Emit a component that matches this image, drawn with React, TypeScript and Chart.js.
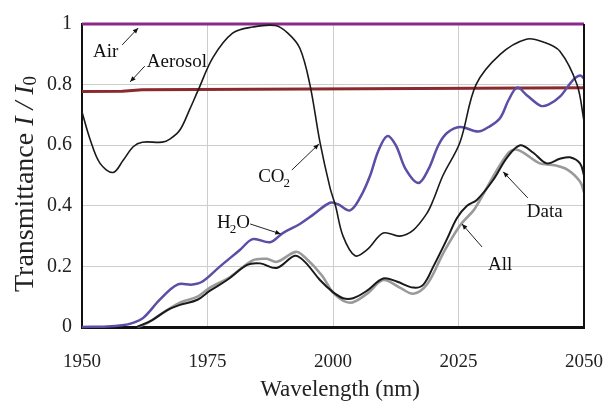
import React, { useEffect, useRef } from 'react';
import { Chart, registerables } from 'chart.js';

Chart.register(...registerables);

// ---- Data (wavelength in nm, transmittance I/I0) ----
const co2Wl = [1950, 1951.6, 1953.6, 1956.2, 1958.2, 1960.2, 1962, 1966, 1967.5, 1969.5, 1971.5, 1973.1, 1976.1, 1980, 1984, 1988.5, 1991, 1993.4, 1995.4, 1997.4, 1999.4, 2000.5, 2002, 2004.4, 2006.8, 2010, 2013.3, 2016, 2018.7, 2020, 2021.9, 2025.3, 2028.5, 2033.3, 2038.5, 2042, 2045.2, 2048.6, 2050];
const co2T = [0.71, 0.62, 0.54, 0.51, 0.55, 0.595, 0.61, 0.61, 0.62, 0.65, 0.72, 0.78, 0.89, 0.97, 0.99, 0.995, 0.97, 0.92, 0.8, 0.61, 0.46, 0.4, 0.3, 0.235, 0.255, 0.31, 0.3, 0.32, 0.375, 0.42, 0.5, 0.61, 0.8, 0.9, 0.95, 0.94, 0.91, 0.8, 0.68];

const h2oWl = [1950, 1955, 1958, 1960, 1962.2, 1965.5, 1969, 1972, 1974, 1977.5, 1981.5, 1984, 1987.5, 1990, 1993.4, 1996, 1999.4, 2001, 2003.4, 2005.5, 2007.4, 2009, 2010.8, 2012.5, 2014.5, 2017, 2019, 2021, 2022.7, 2025.3, 2028.9, 2031, 2033.3, 2035, 2036.7, 2038.6, 2041.4, 2043, 2045.2, 2047.8, 2049.2, 2050];
const h2oT = [0, 0.002, 0.006, 0.013, 0.03, 0.09, 0.14, 0.14, 0.15, 0.2, 0.255, 0.29, 0.28, 0.31, 0.34, 0.37, 0.41, 0.405, 0.385, 0.43, 0.5, 0.58, 0.63, 0.6, 0.52, 0.475, 0.52, 0.6, 0.64, 0.66, 0.645, 0.66, 0.69, 0.75, 0.79, 0.765, 0.73, 0.735, 0.76, 0.815, 0.83, 0.82];

const allWl = [1961, 1964, 1967, 1969.5, 1973, 1975.5, 1978.9, 1982.9, 1985.5, 1988.8, 1992.4, 1994.4, 1997.4, 2000, 2002, 2004, 2006.8, 2010, 2012.7, 2016, 2018, 2020, 2022.7, 2024.7, 2026.7, 2028.7, 2031.9, 2034.7, 2037.3, 2039.9, 2042.6, 2045.2, 2047.2, 2049.2, 2050];
const allT = [0, 0.023, 0.056, 0.073, 0.09, 0.12, 0.155, 0.205, 0.21, 0.195, 0.235, 0.215, 0.155, 0.115, 0.095, 0.095, 0.12, 0.16, 0.15, 0.13, 0.14, 0.2, 0.29, 0.36, 0.4, 0.42, 0.485, 0.56, 0.6, 0.575, 0.54, 0.555, 0.56, 0.54, 0.5];

const dataWl = [1961, 1963, 1965.5, 1969.5, 1973, 1975.5, 1979.5, 1984, 1986.8, 1988.8, 1992.6, 1994.4, 1997.8, 2000.2, 2003.4, 2006.8, 2010, 2013.3, 2016, 2018.7, 2022, 2025.3, 2028, 2029.3, 2034.7, 2036.7, 2041.2, 2043.8, 2046.6, 2049.2, 2050];
const dataT = [0, 0.013, 0.04, 0.08, 0.1, 0.13, 0.165, 0.22, 0.225, 0.215, 0.248, 0.23, 0.17, 0.11, 0.08, 0.11, 0.155, 0.13, 0.11, 0.14, 0.245, 0.335, 0.385, 0.42, 0.57, 0.585, 0.54, 0.535, 0.52, 0.48, 0.445];

const airWl = [1950, 2050];
const airT = [1, 1];

const aerosolWl = [1950, 1958, 1962, 2050];
const aerosolT = [0.777, 0.778, 0.783, 0.79];

const xTicks = [1950, 1975, 2000, 2025, 2050];
const yTicks = [0, 0.2, 0.4, 0.6, 0.8, 1];

// label text, anchor (wavelength, transmittance) and arrow from -> to (data units)
const labels = [
  { parts: [{ t: 'Air' }], at: [1952.2, 0.891], from: [1958.0, 0.931], to: [1961.2, 0.987] },
  { parts: [{ t: 'Aerosol' }], at: [1962.9, 0.858], from: [1962.5, 0.861], to: [1959.6, 0.809] },
  { parts: [{ t: 'CO' }, { t: '2', sub: true }], at: [1985.1, 0.479], from: [1991.8, 0.518], to: [1997.2, 0.604] },
  { parts: [{ t: 'H' }, { t: '2', sub: true }, { t: 'O' }], at: [1976.9, 0.327], from: [1983.5, 0.34], to: [1989.6, 0.307] },
  { parts: [{ t: 'Data' }], at: [2038.6, 0.363], from: [2038.8, 0.426], to: [2033.9, 0.512] },
  { parts: [{ t: 'All' }], at: [2030.9, 0.188], from: [2029.7, 0.264], to: [2025.7, 0.34] },
];

const xTitle = 'Wavelength (nm)';
const yTitleMain = 'Transmittance ';
const yTitleItalic = 'I / I';
const yTitleSub = '0';

const SERIF = '"Liberation Serif", "DejaVu Serif", "Times New Roman", serif';

const pts = (xs: number[], ys: number[]) => xs.map((x, i) => ({ x, y: ys[i] }));

const overlayPlugin = {
  id: 'overlay',
  afterDraw(chart: any) {
    const { ctx, chartArea: ca, scales } = chart;
    const sx = scales.x;
    const sy = scales.y;
    ctx.save();
    // right frame border
    ctx.strokeStyle = '#111';
    ctx.lineWidth = 2;
    ctx.beginPath();
    ctx.moveTo(ca.right, ca.top);
    ctx.lineTo(ca.right, ca.bottom);
    ctx.stroke();

    // annotations
    ctx.fillStyle = '#111';
    ctx.textBaseline = 'alphabetic';
    ctx.textAlign = 'left';
    labels.forEach((l) => {
      let x = sx.getPixelForValue(l.at[0]);
      const y = sy.getPixelForValue(l.at[1]);
      l.parts.forEach((p: any) => {
        if (p.sub) {
          ctx.font = `13px ${SERIF}`;
          ctx.fillText(p.t, x - 1, y + 5);
          x += ctx.measureText(p.t).width - 1;
        } else {
          ctx.font = `19px ${SERIF}`;
          ctx.fillText(p.t, x, y);
          x += ctx.measureText(p.t).width;
        }
      });
      const x1 = sx.getPixelForValue(l.from[0]);
      const y1 = sy.getPixelForValue(l.from[1]);
      const x2 = sx.getPixelForValue(l.to[0]);
      const y2 = sy.getPixelForValue(l.to[1]);
      ctx.strokeStyle = '#222';
      ctx.lineWidth = 1;
      ctx.beginPath();
      ctx.moveTo(x1, y1);
      ctx.lineTo(x2, y2);
      ctx.stroke();
      const ang = Math.atan2(y2 - y1, x2 - x1);
      const hl = 6;
      ctx.beginPath();
      ctx.moveTo(x2, y2);
      ctx.lineTo(x2 - hl * Math.cos(ang - 0.4), y2 - hl * Math.sin(ang - 0.4));
      ctx.lineTo(x2 - hl * Math.cos(ang + 0.4), y2 - hl * Math.sin(ang + 0.4));
      ctx.closePath();
      ctx.fill();
    });

    // x title
    ctx.font = `23px ${SERIF}`;
    ctx.textAlign = 'center';
    ctx.fillStyle = '#222';
    ctx.fillText(xTitle, (ca.left + ca.right) / 2 + 7, 396);

    // y title (rotated)
    ctx.translate(33, 292);
    ctx.rotate(-Math.PI / 2);
    ctx.textAlign = 'left';
    let px = 0;
    ctx.font = `28px ${SERIF}`;
    ctx.fillText(yTitleMain, px, 0);
    px += ctx.measureText(yTitleMain).width;
    ctx.font = `italic 28px ${SERIF}`;
    ctx.fillText(yTitleItalic, px, 0);
    px += ctx.measureText(yTitleItalic).width;
    ctx.font = `19px ${SERIF}`;
    ctx.fillText(yTitleSub, px, 3);
    ctx.restore();
  },
};

export default function App() {
  const ref = useRef<HTMLCanvasElement | null>(null);
  useEffect(() => {
    document.body.style.margin = '0';
    const canvas = ref.current;
    if (!canvas) return;
    const chart = new Chart(canvas, {
      type: 'line',
      data: {
        datasets: [
          { label: 'CO2', data: pts(co2Wl, co2T), borderColor: '#1a1a1a', borderWidth: 1.6, order: 0 },
          { label: 'All', data: pts(allWl, allT), borderColor: '#1a1a1a', borderWidth: 2, order: 1 },
          { label: 'Data', data: pts(dataWl, dataT), borderColor: '#9a9a9a', borderWidth: 2.6, order: 2 },
          { label: 'H2O', data: pts(h2oWl, h2oT), borderColor: '#5a4ea6', borderWidth: 2.5, order: 3 },
          { label: 'Aerosol', data: pts(aerosolWl, aerosolT), borderColor: '#8b2a2e', borderWidth: 3, tension: 0, order: 4 },
          { label: 'Air', data: pts(airWl, airT), borderColor: '#8a2a8c', borderWidth: 3, tension: 0, order: 5 },
        ].map((d: any) => ({
          tension: 0.35,
          pointRadius: 0,
          fill: false,
          clip: false,
          ...d,
        })),
      },
      options: {
        responsive: false,
        animation: false,
        devicePixelRatio: 1,
        layout: { padding: { top: 24, right: 19, bottom: 0, left: 0 } },
        plugins: { legend: { display: false }, tooltip: { enabled: false } },
        scales: {
          x: {
            type: 'linear',
            min: 1950,
            max: 2050,
            afterFit: (s: any) => { s.height = 79; s.paddingLeft = 0; s.paddingRight = 0; },
            afterBuildTicks: (s: any) => { s.ticks = xTicks.map((v) => ({ value: v })); },
            ticks: {
              color: '#222',
              font: { family: SERIF, size: 19 },
              padding: 24,
              maxRotation: 0,
              callback: (v: any) => String(v),
            },
            grid: { color: '#cdcdcd', lineWidth: 1, drawTicks: false },
            border: { color: '#111', width: 3 },
          },
          y: {
            type: 'linear',
            min: 0,
            max: 1,
            afterFit: (s: any) => { s.width = 82; s.paddingTop = 0; s.paddingBottom = 0; },
            afterBuildTicks: (s: any) => { s.ticks = yTicks.map((v) => ({ value: v })); },
            ticks: {
              color: '#222',
              font: { family: SERIF, size: 20 },
              padding: 10,
              callback: (v: any) => (v === 0 ? '0' : v === 1 ? '1' : Number(v).toFixed(1)),
            },
            grid: { color: '#cdcdcd', lineWidth: 1, drawTicks: false },
            border: { color: '#111', width: 2 },
          },
        },
      },
      plugins: [overlayPlugin],
    } as any);
    return () => chart.destroy();
  }, []);
  return (
    <div style={{ width: 603, height: 406, background: '#fff' }}>
      <canvas ref={ref} width={603} height={406} />
    </div>
  );
}
